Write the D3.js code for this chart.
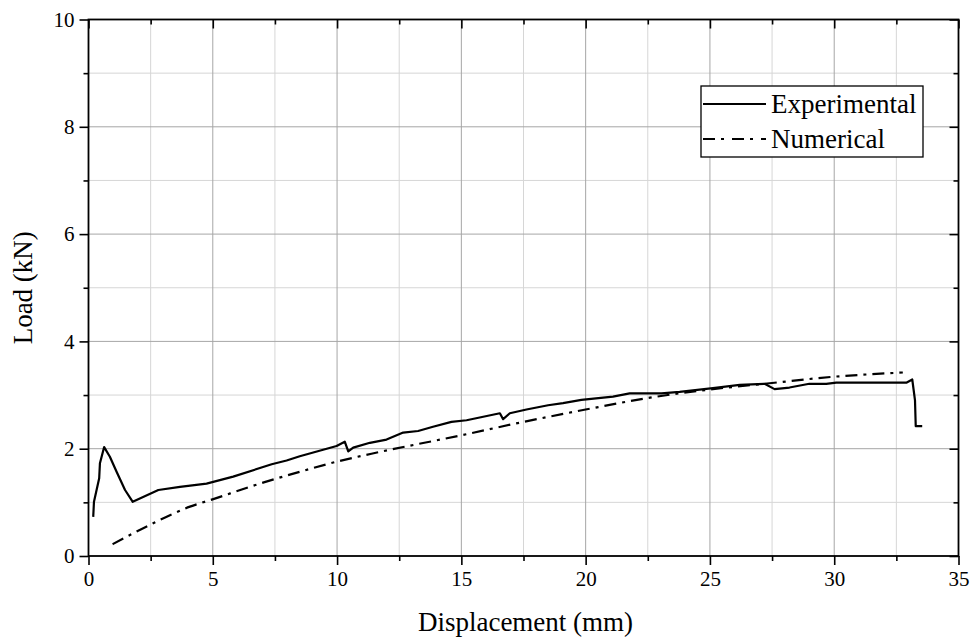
<!DOCTYPE html>
<html><head><meta charset="utf-8">
<script src="https://cdn.jsdelivr.net/npm/d3@7"></script>
<style>body{margin:0;background:#fff}svg{display:block}svg text{font-family:"Liberation Serif","Times New Roman",serif !important;fill:#000}</style>
</head><body>
<svg id="c" width="972" height="638"></svg>
<script>
const xTicks = [0,5,10,15,20,25,30,35];
const yTicks = [0,2,4,6,8,10];
const xMinor = [2.5,7.5,12.5,17.5,22.5,27.5,32.5];
const yMinor = [1,3,5,7,9];
const seriesNames = ["Experimental","Numerical"];
const expX = [0.19,0.22,0.43,0.46,0.63,0.86,1.13,1.47,1.78,2.81,3.68,4.75,5.82,7.37,7.97,8.5,9.98,10.31,10.45,10.65,11.32,11.99,12.66,13.26,13.86,14.6,15.21,16.55,16.68,16.95,17.62,18.49,19.09,19.83,21.1,21.77,23.05,23.78,25.12,26.2,27.2,27.6,28.2,29.0,29.68,30.08,32.9,33.14,33.25,33.28,33.54];
const expY = [0.73,1.01,1.45,1.73,2.03,1.85,1.57,1.23,1.01,1.23,1.29,1.35,1.48,1.71,1.78,1.86,2.05,2.13,1.95,2.02,2.11,2.17,2.3,2.33,2.41,2.5,2.53,2.66,2.55,2.66,2.73,2.81,2.85,2.91,2.97,3.03,3.03,3.06,3.13,3.19,3.21,3.11,3.14,3.21,3.21,3.23,3.23,3.29,2.9,2.42,2.42];
const numX = [0.97,2.47,4.08,5.02,6.49,8.5,10,11.72,15,17.5,20,22.44,25.12,27.4,29.95,32.76];
const numY = [0.22,0.58,0.92,1.06,1.29,1.57,1.76,1.94,2.25,2.5,2.73,2.94,3.11,3.22,3.34,3.42];

const svg = d3.select("#c");
const L=88.5, R=958.5, T=19.5, B=556;
const x = d3.scaleLinear().domain([0,35]).range([L,R]);
const y = d3.scaleLinear().domain([0,10]).range([B,T]);
const SERIF = '"Liberation Serif","Times New Roman",serif';

// grid
const g = svg.append("g");
g.selectAll(".gxm").data(xMinor).join("line").attr("x1",d=>x(d)).attr("x2",d=>x(d)).attr("y1",T).attr("y2",B).attr("stroke","#d6d6d6").attr("stroke-width",1);
g.selectAll(".gym").data(yMinor).join("line").attr("y1",d=>y(d)).attr("y2",d=>y(d)).attr("x1",L).attr("x2",R).attr("stroke","#d6d6d6").attr("stroke-width",1);
g.selectAll(".gx").data(xTicks.slice(1,-1)).join("line").attr("x1",d=>x(d)).attr("x2",d=>x(d)).attr("y1",T).attr("y2",B).attr("stroke","#a6a6a6").attr("stroke-width",1);
g.selectAll(".gy").data(yTicks.slice(1,-1)).join("line").attr("y1",d=>y(d)).attr("y2",d=>y(d)).attr("x1",L).attr("x2",R).attr("stroke","#a6a6a6").attr("stroke-width",1);

// axes
function styleAxis(sel){sel.attr("font-family",SERIF);sel.select(".domain").remove();sel.selectAll("line").attr("stroke","#000").attr("stroke-width",1.6);sel.selectAll("text").attr("font-size",21).style("font-family",SERIF);}
svg.append("g").attr("transform",`translate(0,${B})`).call(d3.axisBottom(x).tickValues(xTicks).tickSize(9).tickPadding(6).tickFormat(d3.format("d"))).call(styleAxis);
svg.append("g").attr("transform",`translate(0,${B})`).call(d3.axisBottom(x).tickValues(xMinor).tickSize(5).tickFormat("")).call(styleAxis);
svg.append("g").attr("transform",`translate(${L},0)`).call(d3.axisLeft(y).tickValues(yTicks).tickSize(9).tickPadding(5).tickFormat(d3.format("d"))).call(styleAxis);
svg.append("g").attr("transform",`translate(${L},0)`).call(d3.axisLeft(y).tickValues(yMinor).tickSize(5).tickFormat("")).call(styleAxis);
svg.append("g").attr("transform",`translate(0,${T})`).call(d3.axisBottom(x).tickValues(xTicks).tickSize(9).tickFormat("")).call(styleAxis);
svg.append("g").attr("transform",`translate(0,${T})`).call(d3.axisBottom(x).tickValues(xMinor).tickSize(5).tickFormat("")).call(styleAxis);
svg.append("g").attr("transform",`translate(${R},0)`).call(d3.axisLeft(y).tickValues(yTicks).tickSize(9).tickFormat("")).call(styleAxis);
svg.append("g").attr("transform",`translate(${R},0)`).call(d3.axisLeft(y).tickValues(yMinor).tickSize(5).tickFormat("")).call(styleAxis);
svg.append("rect").attr("x",L).attr("y",T).attr("width",R-L).attr("height",B-T).attr("fill","none").attr("stroke","#000").attr("stroke-width",1.8);

// lines
const expData = expX.map((v,i)=>[v,expY[i]]);
const numData = numX.map((v,i)=>[v,numY[i]]);
svg.append("path").datum(numData).attr("d",d3.line().x(d=>x(d[0])).y(d=>y(d[1])).curve(d3.curveMonotoneX)).attr("fill","none").attr("stroke","#000").attr("stroke-width",2.2).attr("stroke-dasharray","12,6,3,6");
svg.append("path").datum(expData).attr("d",d3.line().x(d=>x(d[0])).y(d=>y(d[1]))).attr("fill","none").attr("stroke","#000").attr("stroke-width",2.2).attr("stroke-linejoin","round");

// titles
svg.append("text").attr("x",(L+R)/2+2).attr("y",631).attr("text-anchor","middle").attr("font-size",27).text("Displacement (mm)");
svg.append("text").attr("transform",`translate(32,${(T+B)/2}) rotate(-90)`).attr("text-anchor","middle").attr("font-size",27).text("Load (kN)");

// legend
const lg = svg.append("g");
lg.append("rect").attr("x",701).attr("y",86).attr("width",222).attr("height",71).attr("fill","#fff").attr("stroke","#000").attr("stroke-width",1.3);
const dashes = [null,"12,6,3,8"];
seriesNames.forEach((n,i)=>{
  const yy = 104 + i*35;
  lg.append("line").attr("x1",703).attr("x2",766).attr("y1",yy).attr("y2",yy).attr("stroke","#000").attr("stroke-width",2.2).attr("stroke-dasharray",dashes[i]);
  lg.append("text").attr("x",771).attr("y",yy+9).attr("font-size",27).text(n);
});
</script>
</body></html>
